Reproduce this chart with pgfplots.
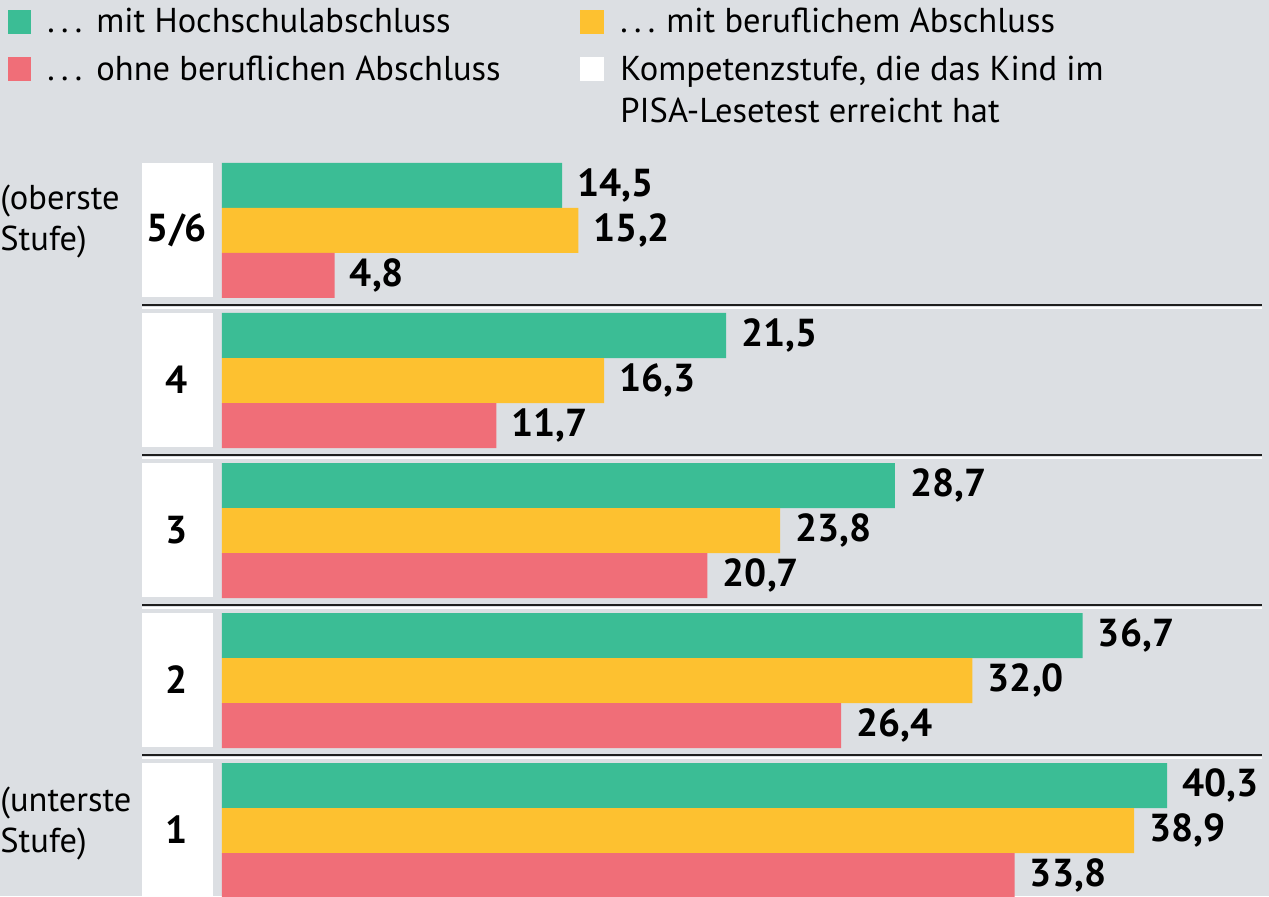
\documentclass[border=0pt]{standalone}
\usepackage{pgfplots}
\pgfplotsset{compat=1.18}
\usepackage{fontspec}
\setmainfont{PT Sans}
\definecolor{bg}{HTML}{DCDFE3}
\definecolor{cgreen}{HTML}{3BBD95}
\definecolor{cyellow}{HTML}{FDC130}
\definecolor{cred}{HTML}{F06E78}
\definecolor{cline}{HTML}{1E1E1E}
\newcommand{\legfont}{\fontsize{17.25}{20.5}\selectfont}
\newcommand{\valfont}{\fontsize{19.5}{21}\selectfont\bfseries}
\newcommand{\dotsx}{.\kern3.2pt.\kern3.2pt.}
\begin{document}
\begin{tikzpicture}
\fill[bg] (0,0) rectangle (634.5pt,448pt);
% decorations in pixel coordinates (origin top-left)
\begin{scope}[x=0.5pt, y=-0.5pt, shift={(0,448pt)}]
  % white level boxes
  \foreach \k/\lab in {0/5\slash 6,1/4,2/3,3/2} {
    \fill[white] (142,163+150*\k) rectangle (213,297+150*\k);
    \node[font=\valfont, inner sep=0pt] at (177,230+150*\k) {\lab};
  }
  \fill[white] (142,763) rectangle (213,900);
  \node[font=\valfont, inner sep=0pt] at (177,830) {1};
  % separators
  \foreach \s in {305,455,605,755} {
    \draw[cline, line width=1pt] (142,\s) -- (1262,\s);
    \draw[white, line width=0.6pt] (142,\s+3) -- (1262,\s+3);
  }
  % left notes
  \node[font=\legfont, anchor=west, align=left, inner sep=0pt] at (0,222) {(oberste\\Stufe)};
  \node[font=\legfont, anchor=west, align=left, inner sep=0pt] at (0,824) {(unterste\\Stufe)};
  % legend
  \fill[cgreen] (8,10) rectangle (31,34);
  \fill[cred] (8,57) rectangle (31,81);
  \fill[cyellow] (580,10) rectangle (604,34);
  \fill[white] (580,57) rectangle (604,81);
  \node[font=\legfont, anchor=base west, inner sep=0pt] at (47,33) {\dotsx};
  \node[font=\legfont, anchor=base west, inner sep=0pt] at (96,33) {mit Hochschulabschluss};
  \node[font=\legfont, anchor=base west, inner sep=0pt] at (47,81) {\dotsx};
  \node[font=\legfont, anchor=base west, inner sep=0pt] at (96,81) {ohne beruflichen Abschluss};
  \node[font=\legfont, anchor=base west, inner sep=0pt] at (620,33) {\dotsx};
  \node[font=\legfont, anchor=base west, inner sep=0pt] at (666,33) {mit beruflichem Abschluss};
  \node[font=\legfont, anchor=base west, inner sep=0pt] at (620,81) {Kompetenzstufe, die das Kind im};
  \node[font=\legfont, anchor=base west, inner sep=0pt] at (620,123) {PISA-Lesetest erreicht hat};
\end{scope}
\begin{axis}[
  at={(0,0)}, anchor=south west,
  scale only axis, width=634.5pt, height=448pt,
  xmin=-9.467, xmax=44.65, ymin=0, ymax=896,
  axis lines=none, ticks=none, clip=false,
  xbar, bar width=45, bar shift=0pt,
  nodes near coords,
  nodes near coords style={font=\valfont, anchor=west, inner sep=0pt, xshift=7.5pt},
  /pgf/number format/fixed,
  /pgf/number format/fixed zerofill,
  /pgf/number format/precision=1,
  /pgf/number format/use comma,
  /pgf/number format/assume math mode=true,
]
\addplot[fill=cgreen, draw=none] coordinates {(14.5,710.5) (21.5,560.5) (28.7,410.5) (36.7,260.5) (40.3,110.5)};
\addplot[fill=cyellow, draw=none] coordinates {(15.2,665.5) (16.3,515.5) (23.8,365.5) (32.0,215.5) (38.9,65.5)};
\addplot[fill=cred, draw=none] coordinates {(4.8,620.5) (11.7,470.5) (20.7,320.5) (26.4,170.5) (33.8,20.5)};
\end{axis}
\pgfresetboundingbox
\path (0,0) rectangle (634.5pt,448pt);
\end{tikzpicture}
\end{document}
